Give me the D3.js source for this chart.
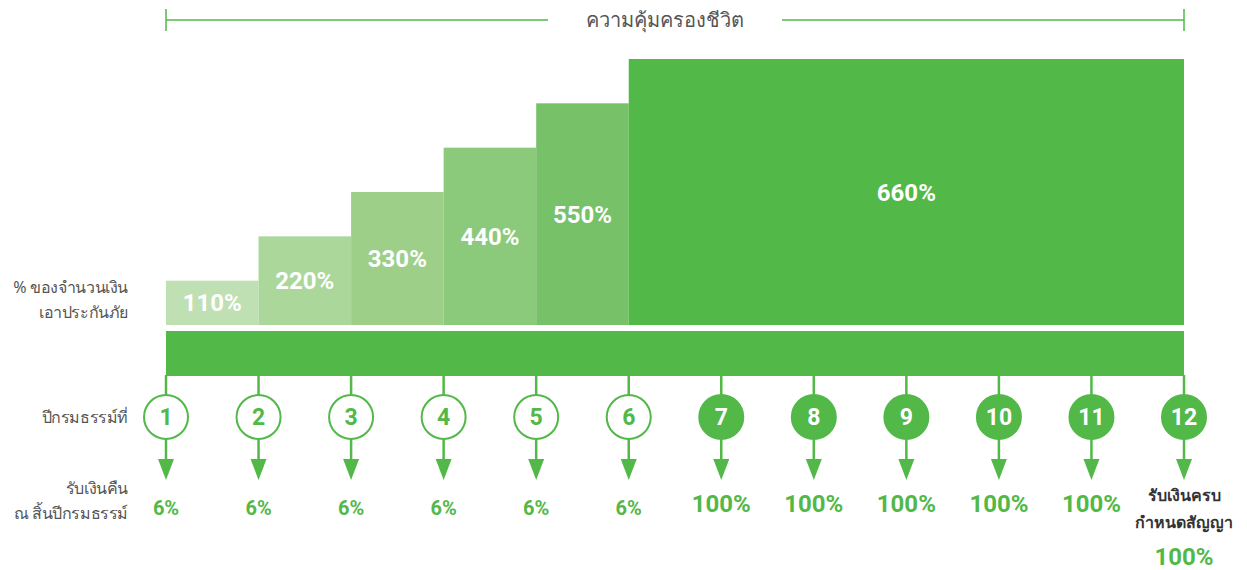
<!DOCTYPE html>
<html>
<head>
<meta charset="utf-8">
<script src="https://cdn.jsdelivr.net/npm/d3@7"></script>
<style>
  body { margin: 0; background: #fff; }
  svg { display: block; }
  .lbl { font-family: "Noto Sans", "DejaVu Sans", sans-serif; fill: #555; font-size: 17px; }
  .num { font-family: Roboto, "DejaVu Sans", sans-serif; font-weight: 700; }
</style>
</head>
<body>
<div id="chart"></div>
<script>
// policy years and what is paid back at the end of each
var years = [1, 2, 3, 4, 5, 6, 7, 8, 9, 10, 11, 12];
var payouts = [6, 6, 6, 6, 6, 6, 100, 100, 100, 100, 100, 100];

// life cover steps (% of sum insured), each from a start year to an end year
var coverage = [110, 220, 330, 440, 550, 660];
var coverStart = [1, 2, 3, 4, 5, 6];
var coverEnd = [2, 3, 4, 5, 6, 12];

var green = '#52b848';
var stepColors = ['#bfe0b2', '#acd79b', '#9dcf89', '#8bc97b', '#77c169', '#52b848'];

var svg = d3.select('#chart').append('svg')
  .attr('width', 1247)
  .attr('height', 570);

var x = d3.scalePoint().domain(years).range([166, 1184]);
var y = d3.scaleLinear().domain([0, 660]).range([325, 59]);

// header bracket
var head = svg.append('g');
head.append('line').attr('x1', x(1)).attr('x2', 548).attr('y1', 20).attr('y2', 20)
  .attr('stroke', green).attr('stroke-width', 1.5);
head.append('line').attr('x1', 782).attr('x2', x(12)).attr('y1', 20).attr('y2', 20)
  .attr('stroke', green).attr('stroke-width', 1.5);
head.selectAll('line.tick').data([1, 12])
  .enter().append('line')
  .attr('class', 'tick')
  .attr('x1', function(d) { return x(d); })
  .attr('x2', function(d) { return x(d); })
  .attr('y1', 9).attr('y2', 31)
  .attr('stroke', green).attr('stroke-width', 1.5);
head.append('text').attr('class', 'lbl')
  .attr('x', 665).attr('y', 20).attr('dy', '0.35em')
  .attr('text-anchor', 'middle').style('font-size', '20px').style('font-weight', 500)
  .text('ความคุ้มครองชีวิต');

// coverage steps
var steps = svg.append('g');
steps.selectAll('rect').data(coverage)
  .enter().append('rect')
  .attr('x', function(d, i) { return x(coverStart[i]); })
  .attr('width', function(d, i) { return x(coverEnd[i]) - x(coverStart[i]); })
  .attr('y', function(d) { return y(d); })
  .attr('height', function(d) { return y(0) - y(d); })
  .attr('fill', function(d, i) { return stepColors[i]; });

steps.selectAll('text').data(coverage)
  .enter().append('text')
  .attr('class', 'num')
  .attr('x', function(d, i) { return (x(coverStart[i]) + x(coverEnd[i])) / 2; })
  .attr('y', function(d) { return (y(d) + y(0)) / 2; })
  .attr('dy', '0.36em')
  .attr('text-anchor', 'middle')
  .attr('fill', '#fff')
  .style('font-size', '24px')
  .text(function(d) { return d + '%'; });

// policy bar
svg.append('rect')
  .attr('x', x(1)).attr('width', x(12) - x(1))
  .attr('y', 331).attr('height', 45)
  .attr('fill', green);

// year markers
var cy = 417, r = 22;
var marks = svg.append('g');
var m = marks.selectAll('g.year').data(years)
  .enter().append('g')
  .attr('class', 'year')
  .attr('transform', function(d) { return 'translate(' + x(d) + ',0)'; });

m.append('line')
  .attr('x1', 0).attr('x2', 0).attr('y1', 375).attr('y2', cy - r)
  .attr('stroke', green).attr('stroke-width', 2.5);
m.append('line')
  .attr('x1', 0).attr('x2', 0).attr('y1', cy + r).attr('y2', 462)
  .attr('stroke', green).attr('stroke-width', 2.5);
m.append('path')
  .attr('d', 'M-8,459L8,459L0,480Z')
  .attr('fill', green);
m.append('circle')
  .attr('cx', 0).attr('cy', cy).attr('r', r)
  .attr('fill', function(d, i) { return payouts[i] >= 100 ? green : '#fff'; })
  .attr('stroke', green).attr('stroke-width', 2);
m.append('text')
  .attr('class', 'num')
  .attr('y', cy).attr('dy', '0.36em')
  .attr('text-anchor', 'middle')
  .attr('fill', function(d, i) { return payouts[i] >= 100 ? '#fff' : green; })
  .style('font-size', '23px')
  .text(function(d) { return d; });

// payouts
m.filter(function(d) { return d < 12; }).append('text')
  .attr('class', 'num')
  .attr('y', function(d, i) { return payouts[i] >= 100 ? 503 : 508; })
  .attr('dy', '0.36em')
  .attr('text-anchor', 'middle')
  .attr('fill', green)
  .style('font-size', function(d, i) { return payouts[i] >= 100 ? '24px' : '20px'; })
  .text(function(d, i) { return payouts[i] + '%'; });

var last = m.filter(function(d) { return d === 12; });
last.append('text').attr('class', 'lbl')
  .attr('y', 495).attr('dy', '0.35em').attr('text-anchor', 'middle')
  .style('fill', '#333').style('font-size', '16px').style('font-weight', 600)
  .text('รับเงินครบ');
last.append('text').attr('class', 'lbl')
  .attr('y', 522).attr('dy', '0.35em').attr('text-anchor', 'middle')
  .style('fill', '#333').style('font-size', '16px').style('font-weight', 600)
  .text('กำหนดสัญญา');
last.append('text').attr('class', 'num')
  .attr('y', 556).attr('dy', '0.36em').attr('text-anchor', 'middle')
  .attr('fill', green).style('font-size', '24px')
  .text(payouts[11] + '%');

// left side labels
var side = [
  { t: '% ของจำนวนเงิน', y: 287 },
  { t: 'เอาประกันภัย', y: 312 },
  { t: 'ปีกรมธรรม์ที่', y: 417 },
  { t: 'รับเงินคืน', y: 488 },
  { t: 'ณ สิ้นปีกรมธรรม์', y: 513 }
];
svg.selectAll('text.side').data(side)
  .enter().append('text')
  .attr('class', 'lbl side')
  .attr('x', 128)
  .attr('y', function(d) { return d.y; })
  .attr('dy', '0.35em')
  .attr('text-anchor', 'end')
  .style('font-size', '16px')
  .style('letter-spacing', '-0.4px')
  .text(function(d) { return d.t; });
</script>
</body>
</html>
